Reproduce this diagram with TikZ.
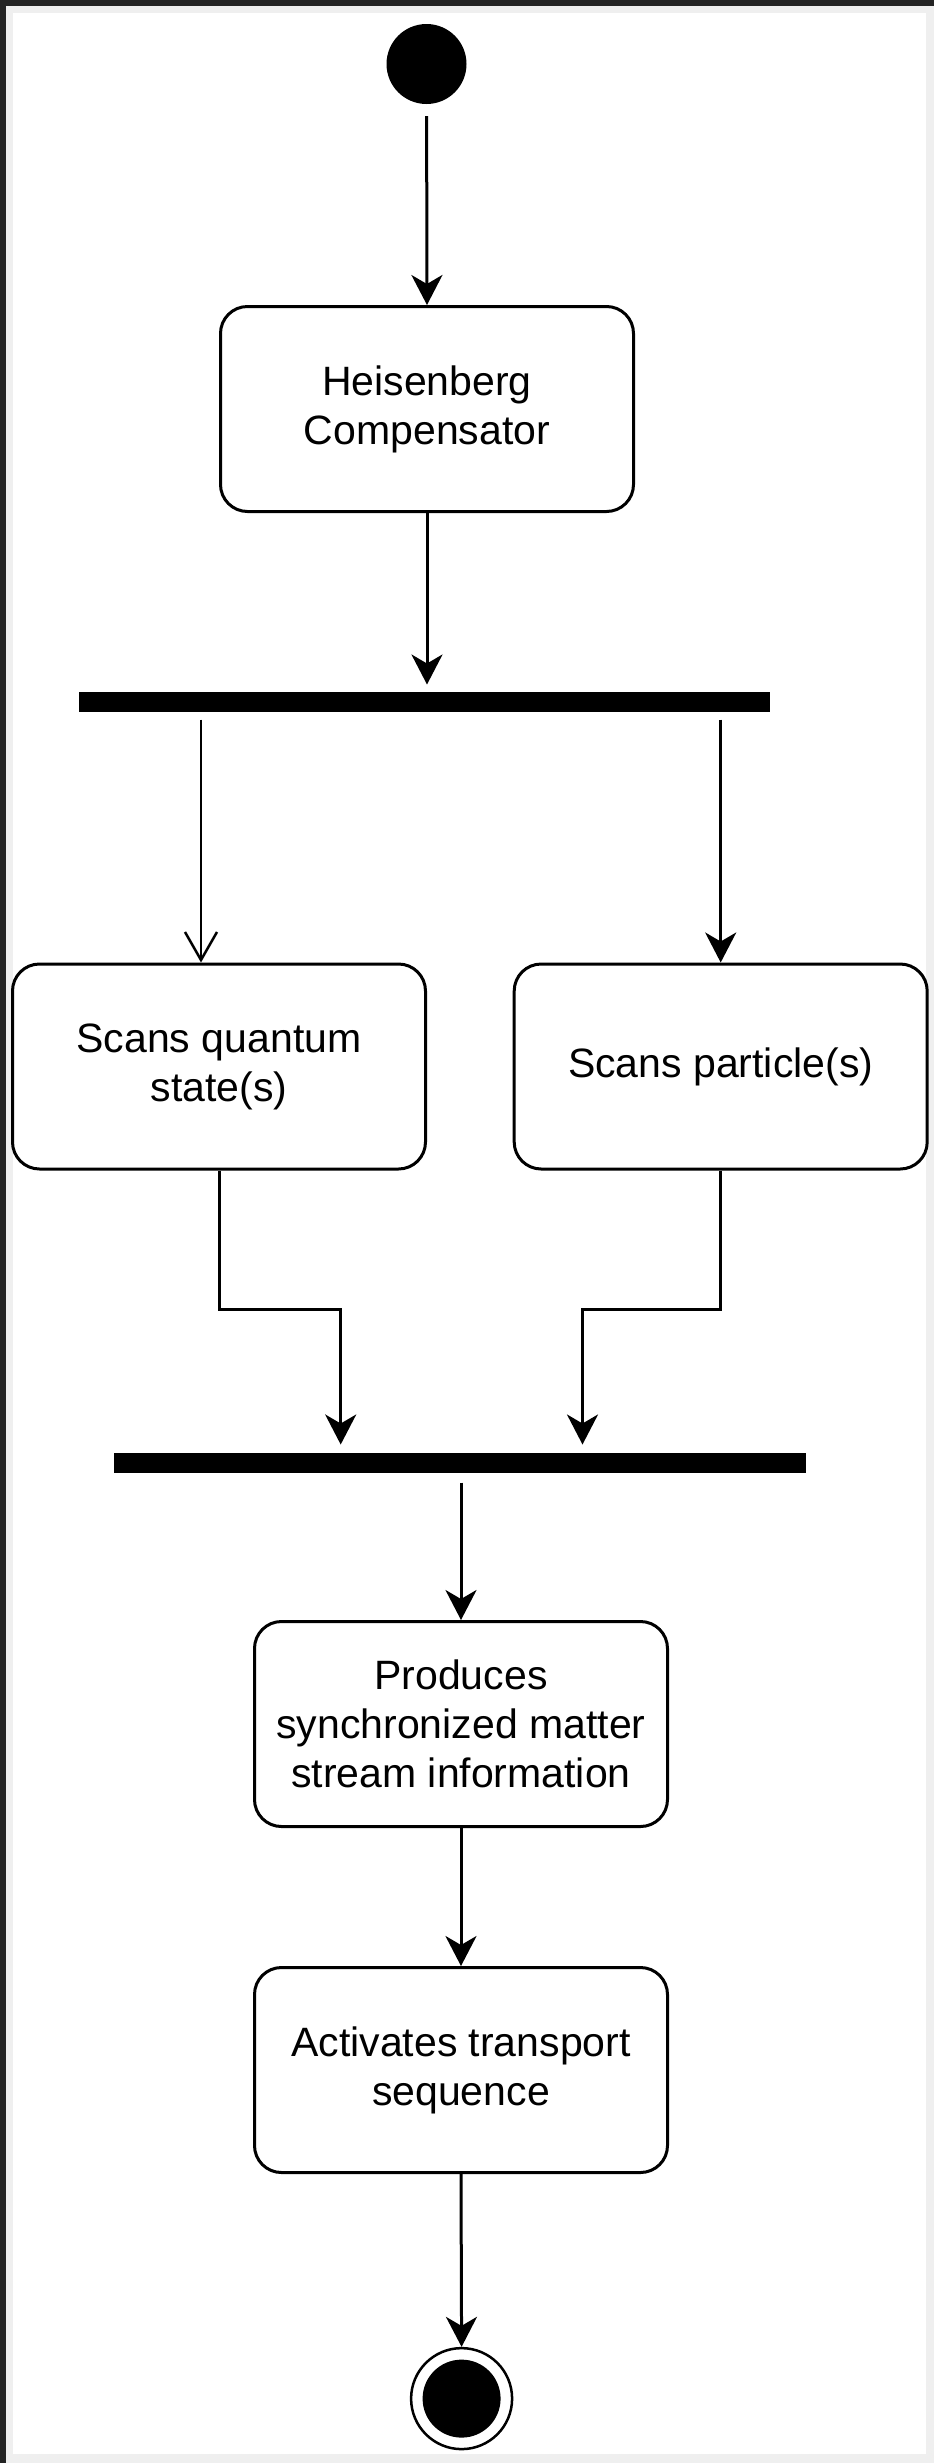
\documentclass[tikz,border=0pt]{standalone}
\usepackage{fontspec}
\setmainfont{Liberation Sans}
\usetikzlibrary{arrows.meta,calc}
\definecolor{framedark}{HTML}{232323}
\definecolor{framelight}{HTML}{EFEFEF}
\begin{document}
\begin{tikzpicture}[x=1pt,y=-1pt,
  conn/.style={line width=3pt, draw=black, -{Stealth[length=30pt,width=31pt,inset=9pt]}},
  openconn/.style={line width=2.5pt, draw=black, -{Straight Barb[length=28pt,width=32pt]}},
  activity/.style={rectangle, rounded corners=27pt, draw=black, line width=3pt,
    minimum width=413pt, minimum height=205pt, align=center, inner sep=0pt,
    font=\fontsize{41}{49}\selectfont},
  syncbar/.style={rectangle, fill=black, minimum height=20pt, inner sep=0pt, outer sep=0pt},
  startnode/.style={circle, fill=black, minimum size=80pt, inner sep=0pt},
  endring/.style={circle, draw=black, line width=2.5pt, fill=white, minimum size=101pt, inner sep=0pt},
  enddot/.style={circle, fill=black, minimum size=78pt, inner sep=0pt}
]
\useasboundingbox (0,0) rectangle (934,2463);
% frame
\fill[white] (0,0) rectangle (934,2463);
\fill[framelight] (6,6) rectangle (934,13);
\fill[framelight] (6,6) rectangle (13,2463);
\fill[framelight] (926,6) rectangle (934,2463);
\fill[framelight] (6,2454) rectangle (934,2463);
\fill[framedark] (0,0) rectangle (934,6);
\fill[framedark] (0,0) rectangle (6,2463);

% nodes
\node[startnode] (start) at (426.5,64) {};
\node[activity] (heis) at (427,409) {Heisenberg\\Compensator};
\node[syncbar, minimum width=691pt] (fork) at (424.5,701.5) {};
\node[activity] (quant) at (219,1066.5) {Scans quantum\\state(s)};
\node[activity] (part) at (720.7,1066.5) {Scans particle(s)};
\node[syncbar, minimum width=692pt] (join) at (460,1462.5) {};
\node[activity] (prod) at (461,1724) {Produces\\synchronized matter\\stream information};
\node[activity] (act) at (461,2070) {Activates transport\\sequence};
\node[endring] (finish) at (461.6,2398.6) {};
\node[enddot] (finishdot) at (finish.center) {};

% connectors
\draw[conn, shorten <=12pt] (start) -- (heis.north);
\draw[conn, shorten >=7pt] (heis.south) -- (heis.south |- fork.north);
\draw[openconn, shorten <=8pt] ([xshift=-18pt]quant.north |- fork.south) -- ([xshift=-18pt]quant.north);
\draw[conn, shorten <=8pt] (part.north |- fork.south) -- (part.north);
\draw[conn, shorten >=8pt] (quant.south) -- ++(0,139) -| ([xshift=-119.3pt]join.north);
\draw[conn, shorten >=8pt] (part.south) -- ++(0,139) -| ([xshift=122.5pt]join.north);
\draw[conn, shorten <=10pt] (prod.north |- join.south) -- (prod.north);
\draw[conn] (prod.south) -- (act.north);
\draw[conn] (act.south) -- (finish.north);
\end{tikzpicture}
\end{document}
